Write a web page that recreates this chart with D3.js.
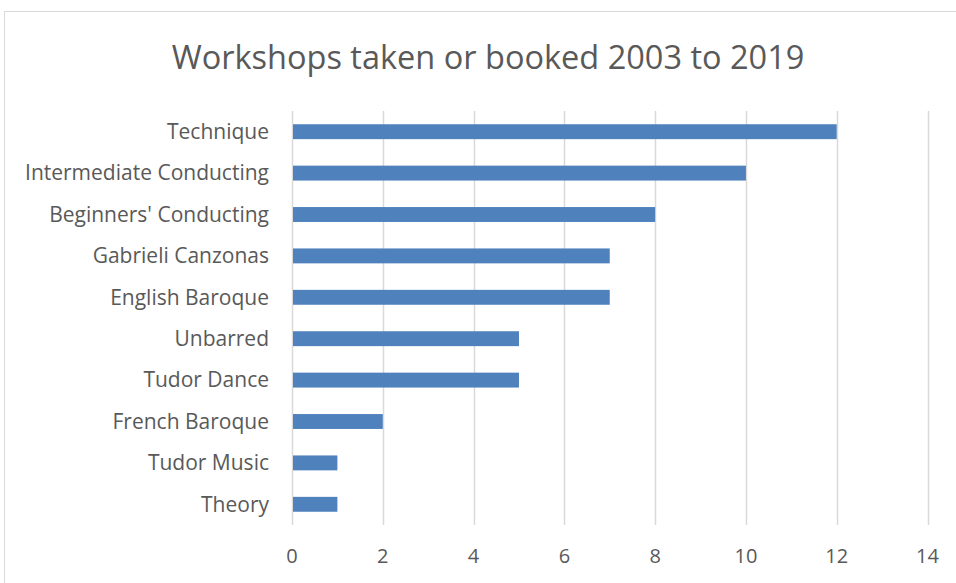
<!DOCTYPE html>
<html><head><meta charset="utf-8">
<script src="https://cdn.jsdelivr.net/npm/d3@7"></script>
<style>body{margin:0;background:#fff}svg{display:block}text{font-family:"Open Sans",Lato,sans-serif;fill:#595959}</style>
</head><body><svg id="c" width="956" height="583"></svg>
<script>
const categories = ["Technique","Intermediate Conducting","Beginners' Conducting","Gabrieli Canzonas","English Baroque","Unbarred","Tudor Dance","French Baroque","Tudor Music","Theory"];
const values = [12,10,8,7,7,5,5,2,1,1];
const ticks = [0,2,4,6,8,10,12,14];
const title = "Workshops taken or booked 2003 to 2019";

const svg = d3.select("#c");
svg.append("rect").attr("x",4.5).attr("y",11.5).attr("width",1000).attr("height",1000)
  .attr("fill","#fff").attr("stroke","#d9d9d9").attr("stroke-width",1);

const x = d3.scaleLinear().domain([0,14]).range([292,927.5]);
const y = d3.scaleBand().domain(categories).range([111,525]).paddingInner(0.64).paddingOuter(0.32);

svg.append("text").attr("x",488).attr("y",69).attr("text-anchor","middle")
  .style("font-size","32.5px").text(title);

const g = svg.append("g");
g.selectAll("line.grid").data(ticks).join("line").attr("class","grid")
  .attr("x1",d=>Math.round(x(d))+0.5).attr("x2",d=>Math.round(x(d))+0.5)
  .attr("y1",111).attr("y2",525).attr("stroke","#d9d9d9").attr("stroke-width",1.5);

g.selectAll("rect.bar").data(values).join("rect").attr("class","bar")
  .attr("x",x(0)+1).attr("y",(d,i)=>y(categories[i]))
  .attr("width",d=>x(d)-x(0)-1).attr("height",y.bandwidth()).attr("fill","#4f81bd");

g.selectAll("text.cat").data(categories).join("text").attr("class","cat")
  .attr("x",269).attr("y",d=>y(d)+y.bandwidth()/2).attr("dy","0.35em")
  .attr("text-anchor","end").style("font-size","21px").text(d=>d);

g.selectAll("text.tick").data(ticks).join("text").attr("class","tick")
  .attr("x",d=>x(d)).attr("y",556).attr("dy","0.35em")
  .attr("text-anchor","middle").style("font-size","20px").text(d=>d);
</script></body></html>
